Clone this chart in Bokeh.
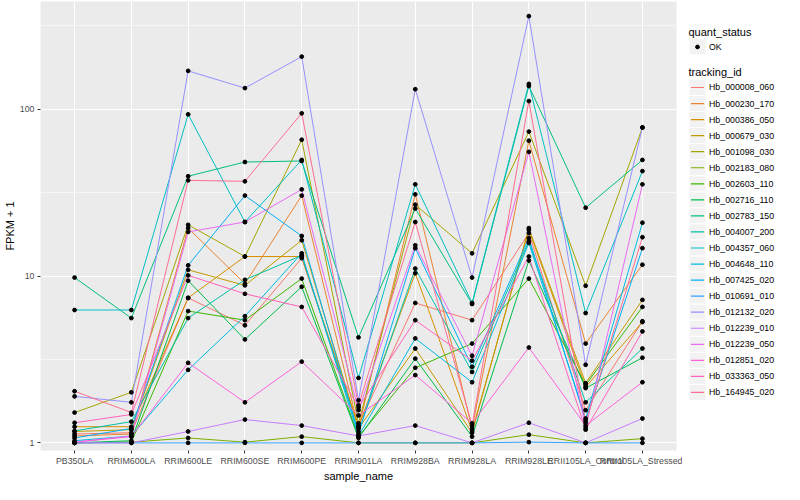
from bokeh.plotting import figure
from bokeh.models import Range1d, FixedTicker, ColumnDataSource, NumeralTickFormatter
from bokeh.layouts import row
from bokeh.embed import file_html
from bokeh.resources import INLINE
from bokeh.core.properties import value

samples = ["PB350LA", "RRIM600LA", "RRIM600LE", "RRIM600SE", "RRIM600PE", "RRIM901LA",
           "RRIM928BA", "RRIM928LA", "RRIM928LE", "RRII105LA_Control", "RRII105LA_Stressed"]

tracking_ids = ["Hb_000008_060", "Hb_000230_170", "Hb_000386_050", "Hb_000679_030",
                "Hb_001098_030", "Hb_002183_080", "Hb_002603_110", "Hb_002716_110",
                "Hb_002783_150", "Hb_004007_200", "Hb_004357_060", "Hb_004648_110",
                "Hb_007425_020", "Hb_010691_010", "Hb_012132_020", "Hb_012239_010",
                "Hb_012239_050", "Hb_012851_020", "Hb_033363_050", "Hb_164945_020"]

colors = ["#F8766D", "#EA8331", "#D89000", "#C09B00", "#A3A500", "#7CAE00", "#39B600",
          "#00BB4E", "#00BF7D", "#00C1A3", "#00BFC4", "#00BAE0", "#00B0F6", "#35A2FF",
          "#9590FF", "#C77CFF", "#E76BF3", "#FA62DB", "#FF62BC", "#FF6C91"]

quant_status = ["OK"]

# FPKM + 1 per sample (in order of `samples`)
hb_000008_060 = [1.13, 1.15, 7.4, 5.07, 12.8, 1.27, 6.9, 5.44, 18.1, 1.57, 5.36]
hb_000230_170 = [1.10, 1.13, 19.4, 9.0, 30.4, 1.23, 30.9, 1.22, 64.8, 3.94, 11.7]
hb_000386_050 = [1.25, 1.25, 7.4, 13.1, 13.1, 1.25, 10.4, 1.18, 18.9, 2.16, 5.3]
hb_000679_030 = [1.17, 1.20, 10.9, 8.8, 16.4, 1.22, 3.68, 1.15, 19.4, 2.28, 7.2]
hb_001098_030 = [1.52, 2.01, 20.3, 13.1, 65.7, 1.31, 26.8, 13.7, 73.5, 8.75, 77.8]
hb_002183_080 = [1.0, 1.01, 1.07, 1.01, 1.09, 1.0, 1.0, 1.0, 1.12, 1.0, 1.06]
hb_002603_110 = [1.0, 1.01, 6.17, 5.44, 9.66, 1.09, 2.82, 3.94, 9.66, 2.22, 6.53]
hb_002716_110 = [1.0, 1.03, 9.39, 4.17, 8.63, 1.07, 3.2, 1.09, 12.4, 2.13, 3.24]
hb_002783_150 = [9.8, 5.6, 39.7, 48.3, 49.0, 4.29, 25.4, 6.8, 138.0, 25.7, 49.7]
hb_004007_200 = [1.18, 1.34, 5.6, 9.5, 13.3, 1.17, 11.1, 2.66, 16.2, 1.75, 3.68]
hb_004357_060 = [6.26, 6.26, 93.3, 21.1, 49.7, 2.45, 35.5, 6.9, 142.0, 6.0, 42.6]
hb_004648_110 = [1.03, 1.10, 2.74, 5.75, 13.7, 1.10, 4.23, 2.31, 15.8, 1.40, 20.9]
hb_007425_020 = [1.07, 1.22, 11.6, 30.4, 17.4, 1.13, 14.7, 2.86, 16.9, 1.36, 14.7]
hb_010691_010 = [1.0, 1.0, 1.0, 1.0, 1.0, 1.0, 1.0, 1.0, 1.01, 1.0, 1.0]
hb_012132_020 = [1.90, 1.75, 170.0, 134.0, 207.0, 1.80, 132.0, 9.8, 362.0, 2.94, 77.8]
hb_012239_010 = [1.0, 1.0, 1.17, 1.38, 1.27, 1.10, 1.27, 1.0, 1.32, 1.0, 1.40]
hb_012239_050 = [1.01, 1.10, 18.4, 21.1, 33.1, 1.57, 15.3, 3.33, 55.6, 1.23, 35.5]
hb_012851_020 = [1.01, 1.09, 3.02, 1.75, 3.07, 1.46, 2.55, 1.31, 3.73, 1.27, 2.31]
hb_033363_050 = [1.32, 1.48, 10.1, 7.83, 6.53, 1.63, 5.44, 3.11, 13.1, 1.20, 4.66]
hb_164945_020 = [2.04, 1.52, 37.5, 37.0, 94.6, 1.68, 21.1, 1.27, 112.0, 1.32, 17.1]

series = [hb_000008_060, hb_000230_170, hb_000386_050, hb_000679_030, hb_001098_030,
          hb_002183_080, hb_002603_110, hb_002716_110, hb_002783_150, hb_004007_200,
          hb_004357_060, hb_004648_110, hb_007425_020, hb_010691_010, hb_012132_020,
          hb_012239_010, hb_012239_050, hb_012851_020, hb_033363_050, hb_164945_020]

y_ticks = [1, 10, 100]
y_minor = [3.1623, 31.623, 316.23]

FONT = "Liberation Sans"

x_idx = list(range(len(samples)))

p = figure(width=682, height=484, x_range=Range1d(-0.6, len(samples) - 0.4),
           y_range=Range1d(0.9, 443), y_axis_type="log",
           output_backend="svg", toolbar_location=None,
           min_border_left=0, min_border_right=6, min_border_top=1, min_border_bottom=0)
p.background_fill_color = "#EBEBEB"
p.border_fill_color = "white"
p.outline_line_color = None

p.xaxis.ticker = FixedTicker(ticks=x_idx)
p.xaxis.major_label_overrides = {i: s for i, s in enumerate(samples)}
p.yaxis.ticker = FixedTicker(ticks=y_ticks, minor_ticks=y_minor)
p.yaxis.formatter = NumeralTickFormatter(format="0")
p.xaxis.axis_label = "sample_name"
p.yaxis.axis_label = "FPKM + 1"

for ax in (p.xaxis[0], p.yaxis[0]):
    ax.axis_line_color = None
    ax.major_tick_line_color = "#333333"
    ax.major_tick_out = 3
    ax.major_tick_in = 0
    ax.minor_tick_line_color = None
    ax.major_label_text_color = "#4D4D4D"
    ax.major_label_text_font = FONT
    ax.major_label_text_font_size = "8.8px"
    ax.major_label_text_line_height = 1.0
    ax.major_label_standoff = 2
    ax.axis_label_text_font = FONT
    ax.axis_label_text_font_size = "11px"
    ax.axis_label_text_line_height = 1.0
    ax.axis_label_text_font_style = "normal"
    ax.axis_label_text_color = "black"
    ax.axis_label_standoff = 1

p.xgrid.grid_line_color = "white"
p.xgrid.grid_line_width = 1.1
p.ygrid.grid_line_color = "white"
p.ygrid.grid_line_width = 1.1
p.ygrid.minor_grid_line_color = "white"
p.ygrid.minor_grid_line_width = 0.55

sources = []
for vals, col in zip(series, colors):
    src = ColumnDataSource(dict(x=x_idx, y=vals))
    sources.append(src)
    p.line("x", "y", source=src, line_color=col, line_width=1.0)
for src in sources:
    p.scatter("x", "y", source=src, size=3.8, color="black")

# legend panel
lf = figure(width=102, height=484, x_range=Range1d(0, 102), y_range=Range1d(484, 0),
            output_backend="svg", toolbar_location=None,
            min_border_left=0, min_border_right=0, min_border_top=0, min_border_bottom=0)
lf.axis.visible = False
lf.grid.visible = False
lf.outline_line_color = None
lf.background_fill_color = "white"
lf.border_fill_color = "white"

lf.text(x=[6], y=[33], text=["quant_status"], text_font=value(FONT),
        text_font_size=value("11px"), text_baseline="middle", text_color="black")
lf.rect(x=[15], y=[49], width=17, height=17, fill_color="#F2F2F2", line_color="white")
lf.scatter(x=[15], y=[49], size=3.8, color="black")
lf.text(x=[26.5], y=[49], text=quant_status, text_font=value(FONT),
        text_font_size=value("8.8px"), text_baseline="middle", text_color="black")

lf.text(x=[6], y=[76], text=["tracking_id"], text_font=value(FONT),
        text_font_size=value("11px"), text_baseline="middle", text_color="black")
row_y = [92.7 + 17.3 * i for i in range(len(tracking_ids))]
leg = ColumnDataSource(dict(
    xc=[15] * len(row_y), y=row_y, x0=[8.5] * len(row_y), x1=[21.5] * len(row_y),
    xt=[26.5] * len(row_y), color=colors, label=tracking_ids))
lf.rect(x="xc", y="y", width=17, height=17.3, source=leg,
        fill_color="#F2F2F2", line_color="white", line_width=1)
lf.segment(x0="x0", y0="y", x1="x1", y1="y", source=leg,
           line_color="color", line_width=1.2)
lf.text(x="xt", y="y", text="label", source=leg, text_font=value(FONT),
        text_font_size=value("8.8px"), text_baseline="middle", text_color="black")

layout = row(p, lf)
open("out.html", "w").write(file_html(layout, INLINE))
